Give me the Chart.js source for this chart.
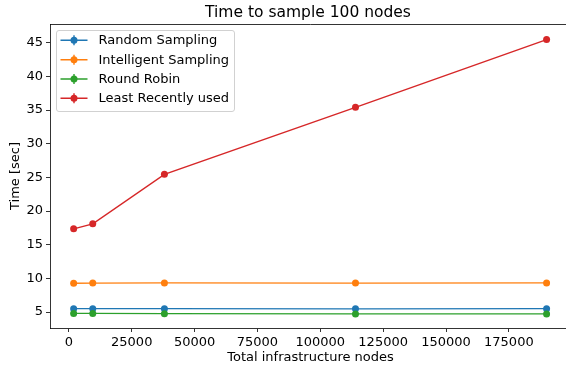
<!DOCTYPE html>
<html>
<head>
<meta charset="utf-8">
<script src="https://cdn.jsdelivr.net/npm/chart.js@4.4.1/dist/chart.umd.min.js"></script>
<style>
  html, body { margin: 0; padding: 0; background: #fff; overflow: hidden; width: 566px; height: 369px; }
  #wrap { width: 571px; height: 369px; position: relative; }
</style>
</head>
<body>
<div id="wrap"><canvas id="c"></canvas></div>
<script>
const nodes = [1900, 9500, 38000, 114000, 190000];
const randomSampling = [5.5, 5.5, 5.5, 5.47, 5.5];
const intelligentSampling = [9.28, 9.3, 9.33, 9.3, 9.33];
const roundRobin = [4.8, 4.8, 4.76, 4.72, 4.72];
const leastRecentlyUsed = [17.35, 18.1, 25.45, 35.4, 45.45];
const seriesLabels = ['Random Sampling', 'Intelligent Sampling', 'Round Robin', 'Least Recently used'];
const xTickValues = [0, 25000, 50000, 75000, 100000, 125000, 150000, 175000];
const yTickValues = [5, 10, 15, 20, 25, 30, 35, 40, 45];
const chartTitle = 'Time to sample 100 nodes';

const colors = ['#1f77b4', '#ff7f0e', '#2ca02c', '#d62728'];
const FONT = '"DejaVu Sans", sans-serif';

function pts(ys) { return nodes.map((x, i) => ({ x: x, y: ys[i] })); }

const allSeries = [randomSampling, intelligentSampling, roundRobin, leastRecentlyUsed];
const datasets = allSeries.map((ys, i) => ({
  label: seriesLabels[i],
  data: pts(ys),
  borderColor: colors[i],
  backgroundColor: colors[i],
  borderWidth: 1.4,
  pointRadius: 3.5,
  pointHoverRadius: 3.5,
  pointBorderWidth: 0,
  tension: 0,
  clip: false,
  order: 4 - i
}));

const frame = {
  id: 'frame',
  beforeDraw(chart) {
    const ctx = chart.ctx;
    ctx.save();
    ctx.fillStyle = '#ffffff';
    ctx.fillRect(0, 0, chart.width, chart.height);
    ctx.restore();
  },
  afterDraw(chart) {
    const ctx = chart.ctx, a = chart.chartArea;
    ctx.save();
    ctx.strokeStyle = '#000';
    ctx.lineWidth = 0.8;
    ctx.beginPath();
    ctx.moveTo(a.left, a.top + 0.5);
    ctx.lineTo(a.right, a.top + 0.5);
    ctx.stroke();
    ctx.fillStyle = '#000';
    ctx.font = '15.5px ' + FONT;
    ctx.textAlign = 'center';
    ctx.textBaseline = 'middle';
    ctx.fillText(chartTitle, 308, 13);
    ctx.restore();

    const bx = 56.5, by = 30.5, bw = 178, bh = 81;
    ctx.save();
    ctx.fillStyle = 'rgba(255,255,255,0.8)';
    ctx.strokeStyle = 'rgba(204,204,204,0.9)';
    ctx.lineWidth = 1;
    ctx.beginPath();
    ctx.roundRect(bx, by, bw, bh, 2.5);
    ctx.fill();
    ctx.stroke();
    const rows = [40.3, 59.7, 79, 98.3];
    chart.data.datasets.forEach((ds, i) => {
      const y = rows[i];
      ctx.strokeStyle = ds.borderColor;
      ctx.lineWidth = 1.4;
      ctx.beginPath();
      ctx.moveTo(60.5, y); ctx.lineTo(87.5, y);
      ctx.moveTo(74, y - 5); ctx.lineTo(74, y + 5);
      ctx.stroke();
      ctx.fillStyle = ds.borderColor;
      ctx.beginPath();
      ctx.arc(74, y, 3.5, 0, Math.PI * 2);
      ctx.fill();
      ctx.fillStyle = '#000';
      ctx.font = '13px ' + FONT;
      ctx.textBaseline = 'middle';
      ctx.textAlign = 'left';
      ctx.fillText(ds.label, 98.5, y + 0.5);
    });
    ctx.restore();
  }
};

new Chart(document.getElementById('c'), {
  type: 'line',
  data: { datasets: datasets },
  options: {
    responsive: true,
    maintainAspectRatio: false,
    animation: false,
    events: [],
    layout: { autoPadding: false, padding: { left: 0, right: 0, top: 24, bottom: 0 } },
    plugins: {
      legend: { display: false },
      tooltip: { enabled: false },
      title: { display: false }
    },
    scales: {
      x: {
        type: 'linear',
        min: -7505,
        max: 199710,
        afterBuildTicks(axis) { axis.ticks = xTickValues.map(v => ({ value: v })); },
        afterFit(axis) { axis.height = 41; axis.paddingLeft = 0; axis.paddingRight = 0; },
        ticks: {
          color: '#000',
          font: { family: FONT, size: 13 },
          padding: 3,
          maxRotation: 0,
          autoSkip: false,
          callback: v => String(v)
        },
        grid: { display: true, drawOnChartArea: false, drawTicks: true, tickLength: 4, color: '#000', lineWidth: 0.8 },
        border: { display: true, color: '#000', width: 0.8 },
        title: {
          display: true,
          text: 'Total infrastructure nodes',
          color: '#000',
          font: { family: FONT, size: 13 },
          padding: { top: 0, bottom: 3.5 }
        }
      },
      y: {
        type: 'linear',
        min: 2.63,
        max: 47.77,
        afterBuildTicks(axis) { axis.ticks = yTickValues.map(v => ({ value: v })); },
        afterFit(axis) { axis.width = 50; axis.paddingTop = 0; axis.paddingBottom = 0; },
        ticks: {
          color: '#000',
          font: { family: FONT, size: 13 },
          padding: 3,
          autoSkip: false,
          callback: v => String(v)
        },
        grid: { display: true, drawOnChartArea: false, drawTicks: true, tickLength: 4, color: '#000', lineWidth: 0.8 },
        border: { display: true, color: '#000', width: 0.8 },
        title: {
          display: true,
          text: 'Time [sec]',
          color: '#000',
          font: { family: FONT, size: 13 },
          padding: { top: 8, bottom: 0 }
        }
      }
    }
  },
  plugins: [frame]
});
</script>
</body>
</html>
